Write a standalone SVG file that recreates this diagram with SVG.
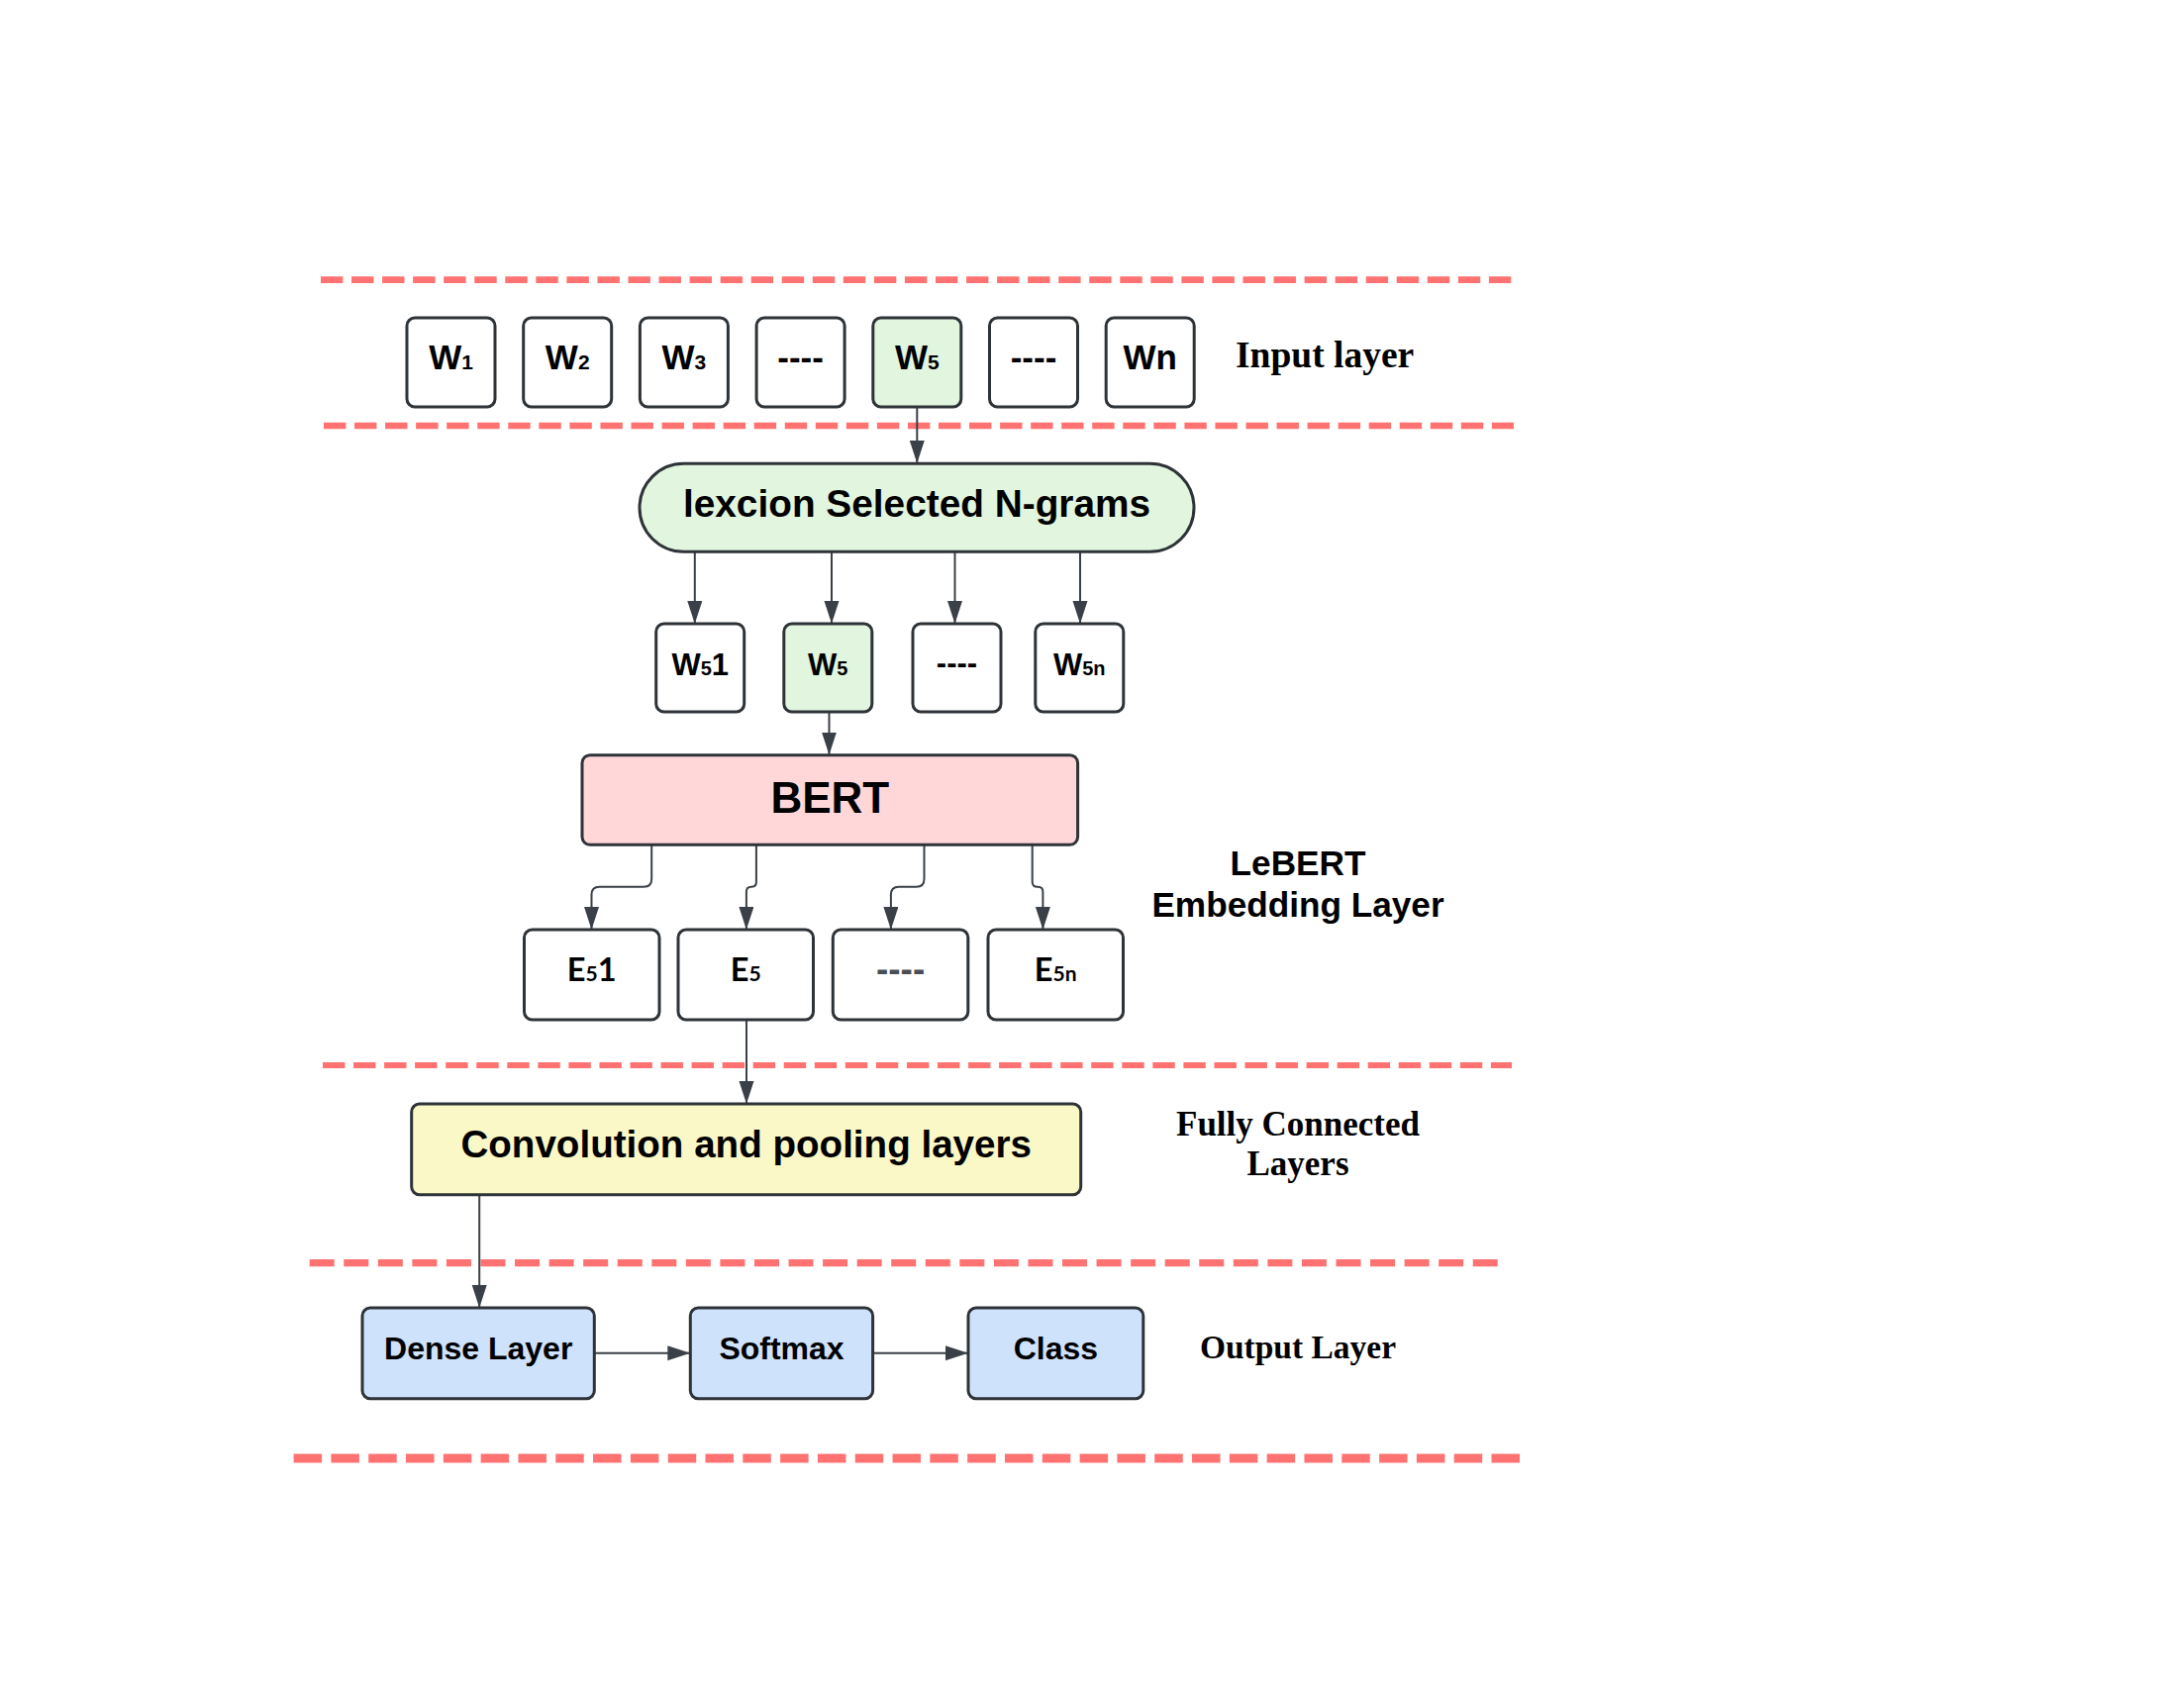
<svg xmlns="http://www.w3.org/2000/svg" width="2206" height="1705" viewBox="0 0 2206 1705">
<defs>
<marker id="arr" markerUnits="userSpaceOnUse" markerWidth="24" markerHeight="16" refX="23" refY="7.5" orient="auto">
<path d="M0,0 L23,7.5 L0,15 Z" fill="#3a4047"/>
</marker>
</defs>
<style>
.box{stroke:#2e3338;stroke-width:3}
.white{fill:#ffffff}
.green{fill:#e2f5df}
.pink{fill:#ffd7d9}
.yellow{fill:#faf8c6}
.blue{fill:#cfe2fc}
.t{font-family:"Liberation Sans",Arial,sans-serif;font-weight:bold;fill:#000;text-anchor:middle}
.e{font-family:Lato,"Liberation Sans",sans-serif;font-weight:bold;fill:#000;text-anchor:middle}
.g{font-family:"Liberation Sans",Arial,sans-serif;font-weight:bold;fill:#4a4f55;text-anchor:middle}
.s{font-family:"Liberation Serif","Times New Roman",serif;font-weight:bold;fill:#000}
.conn{fill:none;stroke:#3a4047;stroke-width:2;marker-end:url(#arr)}
.sep{fill:none;stroke:#ff7272}
</style>
<rect width="2206" height="1705" fill="#ffffff"/>

<g id="separators">
<path class="sep" d="M324,282.7 H1527" stroke-width="6.7" stroke-dasharray="22.4 8.65"/>
<path class="sep" d="M327,430 H1529" stroke-width="6.7" stroke-dasharray="22.4 8.65"/>
<path class="sep" d="M326,1076 H1527" stroke-width="6.2" stroke-dasharray="22.4 8.65"/>
<path class="sep" d="M312.7,1275.7 H1512.7" stroke-width="7.3" stroke-dasharray="25 9.56"/>
<path class="sep" d="M296.6,1473 H1535" stroke-width="9" stroke-dasharray="28.5 9.31"/>
</g>

<g id="connectors">
<path class="conn" d="M926.3,411 V468"/>
<path class="conn" d="M701.8,557 V630"/>
<path class="conn" d="M840,557 V630"/>
<path class="conn" d="M964.5,557 V630"/>
<path class="conn" d="M1091,557 V630"/>
<path class="conn" d="M837.5,719 V762.5"/>
<path class="conn" d="M658.2,853 V887.7 Q658.2,895.7 650.2,895.7 H605.5 Q597.5,895.7 597.5,903.7 V939"/>
<path class="conn" d="M763.9,853 V890.7 Q763.9,895.7 758.9,895.7 Q753.9,895.7 753.9,900.7 V939"/>
<path class="conn" d="M933.5,853 V887.7 Q933.5,895.7 925.5,895.7 H907.9 Q899.9,895.7 899.9,903.7 V939"/>
<path class="conn" d="M1042.7,853 V890.7 Q1042.7,895.7 1047.7,895.7 H1048.4 Q1053.4,895.7 1053.4,900.7 V939"/>
<path class="conn" d="M754,1030 V1115"/>
<path class="conn" d="M484.2,1207 V1321"/>
<path class="conn" d="M600.3,1366.7 H697.3"/>
<path class="conn" d="M881.6,1366.7 H978"/>
</g>

<g id="w1"><rect class="box white" x="411" y="321" width="89" height="90" rx="8"/><text class="t" x="455.5" y="373" font-size="35">W<tspan font-size="21">1</tspan></text></g>
<g id="w2"><rect class="box white" x="528.7" y="321" width="89" height="90" rx="8"/><text class="t" x="573.2" y="373" font-size="35">W<tspan font-size="21">2</tspan></text></g>
<g id="w3"><rect class="box white" x="646.4" y="321" width="89" height="90" rx="8"/><text class="t" x="690.9" y="373" font-size="35">W<tspan font-size="21">3</tspan></text></g>
<g id="wdots1"><rect class="box white" x="764.1" y="321" width="89" height="90" rx="8"/><text class="t" x="808.6" y="373" font-size="35">----</text></g>
<g id="w5"><rect class="box green" x="881.8" y="321" width="89" height="90" rx="8"/><text class="t" x="926.3" y="373" font-size="35">W<tspan font-size="21">5</tspan></text></g>
<g id="wdots2"><rect class="box white" x="999.5" y="321" width="89" height="90" rx="8"/><text class="t" x="1044" y="373" font-size="35">----</text></g>
<g id="wn"><rect class="box white" x="1117.2" y="321" width="89" height="90" rx="8"/><text class="t" x="1161.7" y="373" font-size="35">Wn</text></g>

<g id="ngrams"><rect class="box green" x="646" y="468.3" width="560" height="89" rx="44.5"/><text class="t" x="926" y="521.7" font-size="38.8">lexcion Selected N-grams</text></g>

<g id="w51"><rect class="box white" x="662.7" y="630" width="89" height="89" rx="8"/><text class="t" x="707.2" y="681.7" font-size="31">W<tspan font-size="20">5</tspan>1</text></g>
<g id="w5b"><rect class="box green" x="791.8" y="630" width="89" height="89" rx="8"/><text class="t" x="836.3" y="681.7" font-size="31">W<tspan font-size="20">5</tspan></text></g>
<g id="wdots3"><rect class="box white" x="922" y="630" width="89" height="89" rx="8"/><text class="t" x="966.5" y="680" font-size="31">----</text></g>
<g id="w5n"><rect class="box white" x="1045.8" y="630" width="89" height="89" rx="8"/><text class="t" x="1090.3" y="681.7" font-size="31">W<tspan font-size="20">5n</tspan></text></g>

<g id="bert"><rect class="box pink" x="588" y="762.7" width="500.6" height="90.6" rx="8"/><text class="t" x="838.3" y="821" font-size="44">BERT</text></g>

<g id="e51"><rect class="box white" x="529.5" y="939" width="136.5" height="91" rx="8"/><text class="e" x="597.7" y="991" font-size="32.5">E<tspan font-size="21">5</tspan>1</text></g>
<g id="e5"><rect class="box white" x="685" y="939" width="136.5" height="91" rx="8"/><text class="e" x="753.3" y="991" font-size="32.5">E<tspan font-size="21">5</tspan></text></g>
<g id="edots"><rect class="box white" x="841.3" y="939" width="136.5" height="91" rx="8"/><text class="g" x="909.6" y="991" font-size="37">----</text></g>
<g id="e5n"><rect class="box white" x="998" y="939" width="136.5" height="91" rx="8"/><text class="e" x="1066.2" y="991" font-size="32.5">E<tspan font-size="21">5n</tspan></text></g>

<g id="conv"><rect class="box yellow" x="415.7" y="1115" width="676" height="91.7" rx="8"/><text class="t" x="753.7" y="1169" font-size="38.6">Convolution and pooling layers</text></g>

<g id="dense"><rect class="box blue" x="366" y="1321" width="234.3" height="91.7" rx="8"/><text class="t" x="483.2" y="1372.7" font-size="32">Dense Layer</text></g>
<g id="softmax"><rect class="box blue" x="697.3" y="1321" width="184.3" height="91.7" rx="8"/><text class="t" x="789.5" y="1372.7" font-size="32">Softmax</text></g>
<g id="class"><rect class="box blue" x="978" y="1321" width="176.8" height="91.7" rx="8"/><text class="t" x="1066.4" y="1372.7" font-size="32">Class</text></g>

<g id="labels">
<text class="s" x="1248" y="370.7" font-size="37.5">Input layer</text>
<text class="t" x="1311" y="884" font-size="35.2">LeBERT</text>
<text class="t" x="1311" y="926" font-size="35.2">Embedding Layer</text>
<text class="s" x="1311" y="1146.7" font-size="35" text-anchor="middle">Fully Connected</text>
<text class="s" x="1311" y="1186.5" font-size="35" text-anchor="middle">Layers</text>
<text class="s" x="1311" y="1372" font-size="33.5" text-anchor="middle">Output Layer</text>
</g>
</svg>
